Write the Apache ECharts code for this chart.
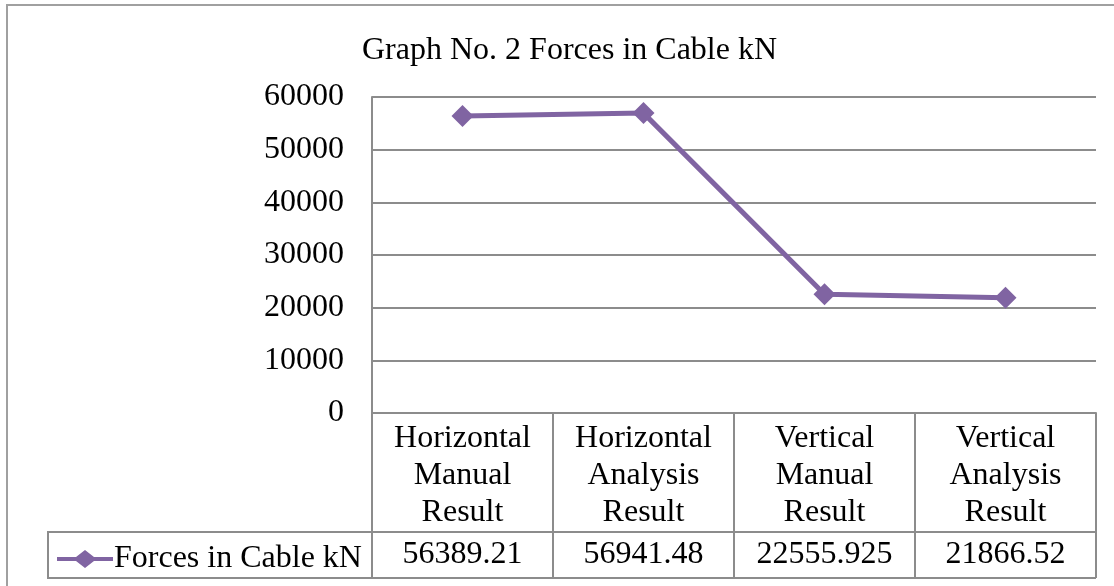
<!DOCTYPE html>
<html>
<head>
    <meta charset="UTF-8">
    <script src="https://cdn.jsdelivr.net/npm/echarts@6/dist/echarts.min.js"></script>
    <style>
        html, body { margin: 0; padding: 0; background: #fff; }
        #main { width: 1114px; height: 586px; }
    </style>
</head>
<body>
<div id="main"></div>
<script type="text/javascript">
    var seriesName = 'Forces in Cable kN';
    var categories = ['Horizontal\nManual\nResult', 'Horizontal\nAnalysis\nResult', 'Vertical\nManual\nResult', 'Vertical\nAnalysis\nResult'];
    var forces = [56389.21, 56941.48, 22555.925, 21866.52];
    var yMin = 0, yMax = 60000, yStep = 10000;

    var font = '"Liberation Serif", "Times New Roman", serif';
    var gray = '#8c8c8c';
    var purple = '#8064a2';

    var chart = echarts.init(document.getElementById('main'));
    var option = {
        animation: false,
        title: {
            text: 'Graph No. 2 Forces in Cable kN',
            left: 357,
            top: 30,
            textStyle: { fontFamily: font, fontSize: 32, fontWeight: 'normal', color: '#000' }
        },
        legend: {
            data: [seriesName],
            left: 52,
            top: 538,
            itemWidth: 56,
            itemHeight: 18,
            itemGap: 0,
            icon: 'path://M0,7H19L28,0L37,7H56V11H37L28,18L19,11H0Z',
            textStyle: { fontFamily: font, fontSize: 32, color: '#000', padding: [0, 0, 0, -4] }
        },
        grid: { left: 372, right: 18, top: 97, bottom: 173 },
        xAxis: [
            {
                type: 'category',
                data: categories,
                boundaryGap: true,
                axisLine: { show: true, lineStyle: { color: gray, width: 2 } },
                axisTick: { show: true, interval: 0, length: 119, lineStyle: { color: gray, width: 2 } },
                axisLabel: { interval: 0, margin: 7, fontFamily: font, fontSize: 32, lineHeight: 37, color: '#000' }
            },
            {
                type: 'category',
                position: 'bottom',
                offset: 119,
                data: forces.map(String),
                boundaryGap: true,
                axisLine: { show: true, lineStyle: { color: gray, width: 2 } },
                axisTick: { show: true, interval: 0, length: 46, lineStyle: { color: gray, width: 2 } },
                axisLabel: { interval: 0, margin: 7, fontFamily: font, fontSize: 32, color: '#000' }
            }
        ],
        yAxis: {
            type: 'value',
            min: yMin,
            max: yMax,
            interval: yStep,
            axisLine: { show: true, lineStyle: { color: gray, width: 2 } },
            axisTick: { show: false },
            splitLine: { lineStyle: { color: gray, width: 2 } },
            axisLabel: {
                margin: 28,
                fontFamily: font,
                fontSize: 32,
                color: '#000',
                formatter: function (v) { return String(v); }
            }
        },
        series: [
            {
                name: seriesName,
                type: 'line',
                xAxisIndex: 0,
                data: forces,
                symbol: 'diamond',
                symbolSize: 22,
                itemStyle: { color: purple },
                lineStyle: { color: purple, width: 5 }
            }
        ],
        graphic: [
            {
                type: 'rect',
                shape: { x: 7, y: 5, width: 1120, height: 600 },
                style: { fill: 'none', stroke: '#a0a0a0', lineWidth: 2 },
                silent: true
            },
            {
                type: 'rect',
                shape: { x: 48, y: 532, width: 324, height: 46 },
                style: { fill: 'none', stroke: gray, lineWidth: 2 },
                silent: true
            },
            {
                type: 'line',
                shape: { x1: 372, y1: 578, x2: 1096, y2: 578 },
                style: { stroke: gray, lineWidth: 2 },
                silent: true
            }
        ]
    };
    chart.setOption(option);
</script>
</body>
</html>
